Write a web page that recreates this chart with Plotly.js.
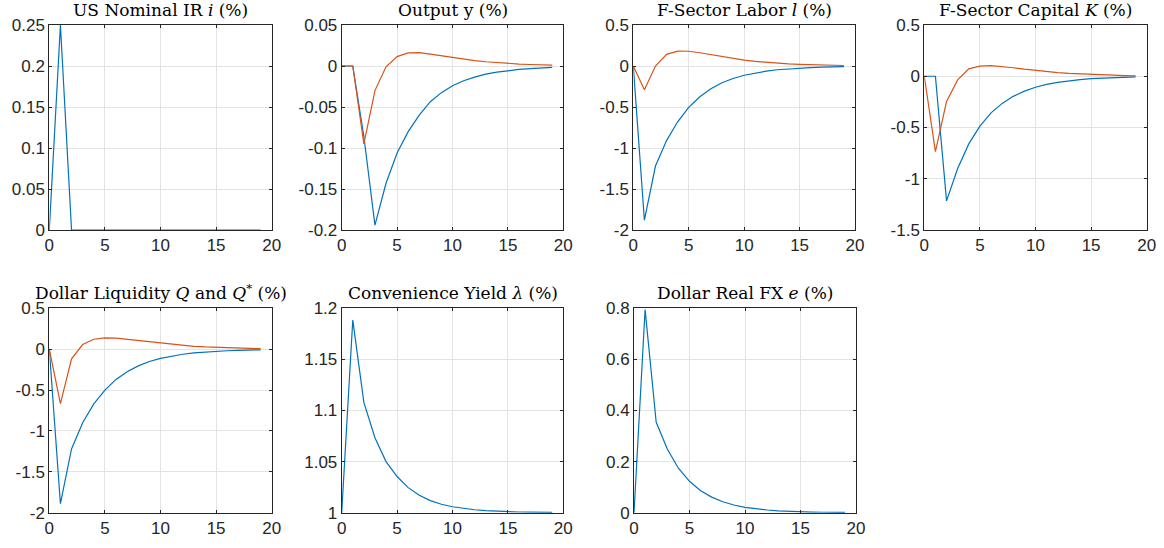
<!DOCTYPE html>
<html>
<head>
<meta charset="utf-8">
<script src="https://cdn.plot.ly/plotly-3.0.1.min.js"></script>
<style>html,body{margin:0;padding:0;background:#fff;}#chart{width:1164px;height:548px;}</style>
</head>
<body>
<div id="chart"></div>
<script>
// Horizon (periods)
const periods = [0,1,2,3,4,5,6,7,8,9,10,11,12,13,14,15,16,17,18,19];

// Panel titles
const titles = [
  'US Nominal IR <i>i</i> (%)',
  'Output y (%)',
  'F-Sector Labor <i>l</i> (%)',
  'F-Sector Capital <i>K</i> (%)',
  'Dollar Liquidity <i>Q</i> and <i>Q</i><sup>*</sup> (%)',
  'Convenience Yield <i>λ</i> (%)',
  'Dollar Real FX <i>e</i> (%)'
];

// Series (blue = first series, orange = second series)
const irBlue = [0,0.25,0,0,0,0,0,0,0,0,0,0,0,0,0,0,0,0,0,0];

const outBlue = [0,0,-0.086,-0.194,-0.143,-0.106,-0.080,-0.060,-0.0435,-0.0325,-0.024,-0.018,-0.0135,-0.010,-0.0075,-0.0055,-0.0042,-0.0031,-0.0023,-0.0017];
const outOrange = [0,0,-0.095,-0.030,-0.001,0.0115,0.016,0.0162,0.0145,0.0123,0.0102,0.0083,0.0066,0.0052,0.0041,0.0031,0.0024,0.0018,0.0013,0.001];

const labBlue = [0,-1.88,-1.22,-0.91,-0.68,-0.505,-0.375,-0.278,-0.205,-0.152,-0.113,-0.084,-0.062,-0.046,-0.034,-0.025,-0.019,-0.014,-0.010,-0.008];
const labOrange = [0,-0.29,0,0.142,0.182,0.180,0.162,0.137,0.112,0.090,0.071,0.056,0.044,0.034,0.026,0.020,0.015,0.011,0.008,0.006];

const capBlue = [0,0,-1.216,-0.90,-0.66,-0.487,-0.357,-0.265,-0.196,-0.145,-0.107,-0.079,-0.059,-0.044,-0.032,-0.024,-0.018,-0.013,-0.010,-0.007];
const capOrange = [0,-0.735,-0.247,-0.036,0.072,0.098,0.104,0.096,0.083,0.069,0.056,0.045,0.036,0.028,0.022,0.017,0.013,0.010,0.007,0.005];

const liqBlue = [0,-1.89,-1.22,-0.90,-0.67,-0.50,-0.37,-0.275,-0.204,-0.151,-0.112,-0.083,-0.062,-0.046,-0.034,-0.025,-0.019,-0.014,-0.010,-0.008];
const liqOrange = [0,-0.665,-0.118,0.057,0.122,0.139,0.134,0.120,0.102,0.085,0.069,0.056,0.044,0.035,0.027,0.021,0.016,0.012,0.009,0.007];

const cyBlue = [1,1.1885,1.108,1.0733,1.050,1.0354,1.0245,1.017,1.0118,1.0083,1.0058,1.0041,1.0029,1.002,1.0014,1.001,1.0007,1.0005,1.0004,1.0003];

const fxBlue = [0,0.795,0.354,0.249,0.174,0.123,0.086,0.061,0.043,0.030,0.021,0.015,0.0105,0.0074,0.0052,0.0036,0.0026,0.0018,0.0013,0.0009];

// Tick labels
const xTicks = [0,5,10,15,20];
const xTickText = ['0','5','10','15','20'];
const yTicks = [
  [0,0.05,0.1,0.15,0.2,0.25],
  [-0.2,-0.15,-0.1,-0.05,0,0.05],
  [-2,-1.5,-1,-0.5,0,0.5],
  [-1.5,-1,-0.5,0,0.5],
  [-2,-1.5,-1,-0.5,0,0.5],
  [1,1.05,1.1,1.15,1.2],
  [0,0.2,0.4,0.6,0.8]
];
const yTickText = [
  ['0','0.05','0.1','0.15','0.2','0.25'],
  ['-0.2','-0.15','-0.1','-0.05','0','0.05'],
  ['-2','-1.5','-1','-0.5','0','0.5'],
  ['-1.5','-1','-0.5','0','0.5'],
  ['-2','-1.5','-1','-0.5','0','0.5'],
  ['1','1.05','1.1','1.15','1.2'],
  ['0','0.2','0.4','0.6','0.8']
];

const BLUE = '#0072BD', ORANGE = '#D95319';
const W = 1164, H = 548;

// panel boxes in pixels [left, right, top, bottom]
const boxes = [
  [49.3,271.7,25,230],[341.7,563.3,25,230],[633.3,855,25,230],[924.3,1146.7,25,230],
  [49.3,271.7,308.3,512.7],[341.7,563.3,308.3,512.7],[634,856,308.3,512.7]
];

const panelSeries = [
  [irBlue],
  [outBlue,outOrange],
  [labBlue,labOrange],
  [capBlue,capOrange],
  [liqBlue,liqOrange],
  [cyBlue],
  [fxBlue]
];

const data = [];
const layout = {
  width: W, height: H,
  margin: {l:0,r:0,t:0,b:0},
  paper_bgcolor: '#fff', plot_bgcolor: '#fff',
  showlegend: false,
  font: {family: 'Liberation Sans, Arial, sans-serif', size: 17, color: '#262626'},
  annotations: []
};

panelSeries.forEach((series, i) => {
  const n = i + 1;
  const xa = 'x' + (n === 1 ? '' : n), ya = 'y' + (n === 1 ? '' : n);
  series.forEach((s, k) => {
    data.push({x: periods, y: s, xaxis: xa, yaxis: ya, type: 'scatter', mode: 'lines',
      line: {color: k === 0 ? BLUE : ORANGE, width: 1.2}, hoverinfo: 'skip'});
  });
  const b = boxes[i];
  const yt = yTicks[i];
  const common = {
    showline: true, linecolor: '#262626', linewidth: 1, mirror: 'ticks',
    ticks: 'inside', ticklen: 3, tickcolor: '#262626', tickwidth: 1,
    showgrid: true, gridcolor: '#e3e3e3', gridwidth: 1, zeroline: false,
    tickfont: {family: 'Liberation Sans, Arial, sans-serif', size: 17, color: '#262626'},
    fixedrange: true
  };
  layout['xaxis' + (n === 1 ? '' : n)] = Object.assign({}, common, {
    domain: [b[0]/W, b[1]/W], anchor: ya, range: [0, 20],
    tickmode: 'array', tickvals: xTicks, ticktext: xTickText
  });
  layout['yaxis' + (n === 1 ? '' : n)] = Object.assign({}, common, {
    domain: [1 - b[3]/H, 1 - b[2]/H], anchor: xa, range: [yt[0], yt[yt.length-1]],
    tickmode: 'array', tickvals: yt, ticktext: yTickText[i]
  });
  layout.annotations.push({
    text: titles[i], xref: 'paper', yref: 'paper',
    x: (b[0] + b[1]) / 2 / W, y: 1 - b[2]/H, xanchor: 'center', yanchor: 'bottom',
    yshift: 3, showarrow: false,
    font: {family: 'DejaVu Serif, serif', size: 17, color: '#000'}
  });
});

Plotly.newPlot('chart', data, layout, {staticPlot: true, displayModeBar: false});
</script>
</body>
</html>
